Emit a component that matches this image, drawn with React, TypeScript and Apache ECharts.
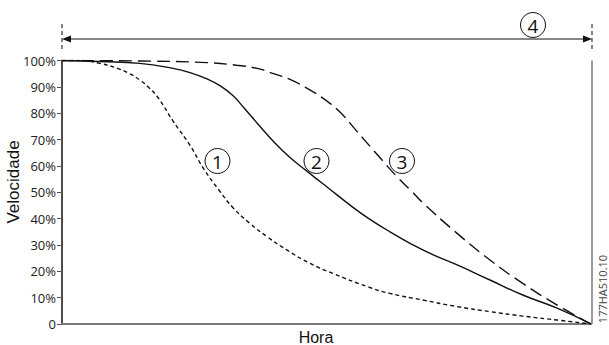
import React, { useEffect, useRef } from "react";
import * as echarts from "echarts";

// Time in % of total stop time (0..100), speed in %
const curve1Time = [0, 3, 7.2, 10.5, 12.6, 14.7, 16.5, 18.3, 21.0, 24.2, 26.7, 29.9, 32.3, 35.5, 38.8, 42.5, 46.9, 51.2, 57.7, 62.0, 68.2, 74.7, 80.9, 87.1, 93.6, 100];
const curve1Speed = [100, 100, 98.9, 97, 95.2, 92.6, 89.6, 85.5, 77.0, 67.8, 59.2, 50.2, 44.2, 38.2, 33.1, 28.1, 23.0, 19.2, 14.2, 11.6, 9.1, 6.6, 4.7, 3.0, 1.5, 0];

const curve2Time = [0, 7.2, 14.7, 21.0, 24.2, 27.4, 30.0, 32.3, 34.5, 36.9, 40.2, 43.1, 46.3, 48.2, 50.1, 54.4, 58.0, 62.0, 68.2, 74.7, 80.9, 87.1, 93.6, 100];
const curve2Speed = [100, 99.6, 98.9, 97.0, 95.4, 93.0, 90.3, 86.7, 81.8, 76.2, 68.8, 63.2, 58.0, 55.0, 52.0, 45.2, 40.0, 35.0, 28.1, 22.4, 16.7, 11.0, 6.0, 0];

const curve3Time = [0, 15, 27.4, 33, 36.9, 40, 43.1, 47.4, 49.3, 52.3, 55.8, 59.5, 63.5, 66.2, 68.2, 74.7, 80.9, 87.1, 93.6, 100];
const curve3Speed = [100, 99.8, 99.2, 98.2, 97.0, 95.0, 92.8, 88.2, 85.7, 80.9, 73.0, 64.5, 55.5, 50.2, 46.0, 34.4, 24.3, 15.4, 7.2, 0];

const yTicks = [0, 10, 20, 30, 40, 50, 60, 70, 80, 90, 100];
const curveLabels = ["1", "2", "3"];
const spanLabel = "4";
const yName = "Velocidade";
const xName = "Hora";
const docCode = "177HA510.10";

const zip = (xs: number[], ys: number[]) => xs.map((x, i) => [x, ys[i]]);

const circled = (cx: number, cy: number, t: string) => ({
  type: "group",
  children: [
    { type: "circle", shape: { cx, cy, r: 12.5 }, style: { fill: "#fff", stroke: "#111", lineWidth: 1 } },
    {
      type: "text",
      x: cx,
      y: cy + 1,
      style: { text: t, fill: "#111", font: "19px 'Open Sans', sans-serif", align: "center", verticalAlign: "middle" },
    },
  ],
});

export default function App() {
  const ref = useRef<HTMLDivElement>(null);
  useEffect(() => {
    if (!ref.current) return;
    const chart = echarts.init(ref.current, undefined, { renderer: "svg" });
    const L = 62, R = 591, T = 60.5, B = 324;
    chart.setOption({
      animation: false,
      backgroundColor: "#fff",
      grid: { left: L, right: 609 - R, top: T, bottom: 345 - B, containLabel: false },
      xAxis: {
        type: "value",
        min: 0,
        max: 100,
        axisLine: { show: true, lineStyle: { color: "#7a7a7a", width: 2 } },
        axisTick: { show: false },
        axisLabel: { show: false },
        splitLine: { show: false },
      },
      yAxis: {
        type: "value",
        min: 0,
        max: 100,
        interval: 10,
        axisLine: { show: true, onZero: false, lineStyle: { color: "#111", width: 1.5 } },
        axisTick: { show: true, length: 5, lineStyle: { color: "#555", width: 1 } },
        axisLabel: {
          margin: 6,
          color: "#222",
          fontSize: 13,
          fontFamily: "'Open Sans', sans-serif",
          formatter: (v: number) => (yTicks.includes(v) ? (v === 0 ? "0" : v + "%") : ""),
        },
        splitLine: { show: false },
      },
      series: [
        {
          type: "line",
          data: zip(curve1Time, curve1Speed),
          smooth: 0.5,
          showSymbol: false,
          lineStyle: { color: "#111", width: 1.4, type: [4, 3] },
          z: 3,
        },
        {
          type: "line",
          data: zip(curve2Time, curve2Speed),
          smooth: 0.5,
          showSymbol: false,
          lineStyle: { color: "#111", width: 1.4, type: "solid" },
          z: 3,
        },
        {
          type: "line",
          data: zip(curve3Time, curve3Speed),
          smooth: 0.5,
          showSymbol: false,
          lineStyle: { color: "#111", width: 1.4, type: [13, 6] },
          z: 3,
        },
      ],
      graphic: [
        { type: "line", shape: { x1: R + 1, y1: T, x2: R + 1, y2: B }, style: { stroke: "#7a7a7a", lineWidth: 1.5 } },
        { type: "line", shape: { x1: L, y1: 24, x2: L, y2: 52 }, style: { stroke: "#333", lineWidth: 1.2, lineDash: [4, 3] } },
        { type: "line", shape: { x1: R + 1, y1: 24, x2: R + 1, y2: 52 }, style: { stroke: "#333", lineWidth: 1.2, lineDash: [4, 3] } },
        { type: "line", shape: { x1: L + 6, y1: 39, x2: R - 6, y2: 39 }, style: { stroke: "#111", lineWidth: 1.2 } },
        { type: "polygon", shape: { points: [[L, 39], [L + 9, 35.5], [L + 9, 42.5]] }, style: { fill: "#111" } },
        { type: "polygon", shape: { points: [[R + 1, 39], [R - 8, 35.5], [R - 8, 42.5]] }, style: { fill: "#111" } },
        circled(217.5, 161, curveLabels[0]),
        circled(316.5, 161, curveLabels[1]),
        circled(402, 161, curveLabels[2]),
        circled(533, 25, spanLabel),
        {
          type: "text",
          x: 13,
          y: 182,
          rotation: Math.PI / 2,
          style: { text: yName, fill: "#111", font: "17px 'Liberation Sans', Arial, sans-serif", align: "center", verticalAlign: "middle" },
        },
        {
          type: "text",
          x: 316,
          y: 337,
          style: { text: xName, fill: "#111", font: "16px 'Liberation Sans', Arial, sans-serif", align: "center", verticalAlign: "middle" },
        },
        {
          type: "text",
          x: 602,
          y: 289,
          rotation: Math.PI / 2,
          style: { text: docCode, fill: "#444", font: "11px 'Open Sans', sans-serif", align: "center", verticalAlign: "middle" },
        },
      ],
    });
    return () => chart.dispose();
  }, []);
  return <div ref={ref} style={{ position: "fixed", left: 0, top: 0, width: 609, height: 345 }} />;
}
